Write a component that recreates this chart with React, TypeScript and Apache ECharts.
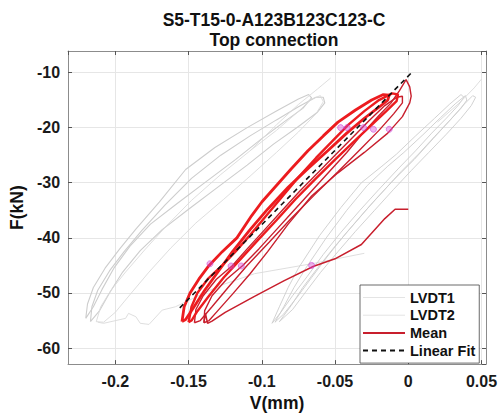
import React, { useEffect, useRef } from "react";
import * as echarts from "echarts";

type P = [number, number];

// Axis ranges and labels
const X_MIN = -0.2323;
const X_MAX = 0.0531;
const Y_MIN = -62.9;
const Y_MAX = -6.1;
const TITLE_LINES = ["S5-T15-0-A123B123C123-C", "Top connection"];
const X_NAME = "V(mm)";
const Y_NAME = "F(kN)";
const LEGEND_NAMES = ["LVDT1", "LVDT2", "Mean", "Linear Fit"];

// LVDT1 (left grey group)
const lvdt1Tail: P[] = [[-0.03, -42.8], [-0.066, -44.7], [-0.105, -46.5], [-0.128, -48.6], [-0.159, -52.5], [-0.168, -53.1], [-0.177, -55.7], [-0.183, -55.5], [-0.186, -54.3], [-0.191, -53.7], [-0.193, -54.6], [-0.208, -55.5], [-0.212, -55.3]];
const lvdt1Loop1: P[] = [[-0.2202, -54.6], [-0.219, -52], [-0.215, -49], [-0.207, -45.5], [-0.197, -42], [-0.186, -38.4], [-0.17, -33.5], [-0.152, -27.6], [-0.132, -23.6], [-0.11, -20], [-0.09, -17], [-0.075, -14.8], [-0.068, -14], [-0.066, -14.6], [-0.072, -16.5], [-0.085, -19], [-0.1, -22], [-0.118, -25.8], [-0.138, -29.8], [-0.158, -33.8], [-0.176, -37.5], [-0.19, -41.5], [-0.201, -45.5], [-0.209, -49.3], [-0.215, -52.5], [-0.2202, -54.6]];
const lvdt1Loop2: P[] = [[-0.217, -55.2], [-0.216, -52.5], [-0.212, -49.5], [-0.204, -46], [-0.194, -42.5], [-0.182, -38.7], [-0.166, -34], [-0.148, -29.2], [-0.128, -25], [-0.108, -21.5], [-0.09, -18.6], [-0.075, -16.2], [-0.063, -14.5], [-0.058, -14.5], [-0.057, -15.5], [-0.062, -17.2], [-0.075, -19.8], [-0.092, -23], [-0.11, -26.8], [-0.13, -30.8], [-0.15, -34.8], [-0.168, -38.5], [-0.183, -42.3], [-0.195, -46.2], [-0.204, -50], [-0.211, -53.3], [-0.217, -55.2]];
const lvdt1Loop3: P[] = [[-0.213, -55.2], [-0.21, -52.5], [-0.203, -49.5], [-0.193, -46.2], [-0.18, -42.2], [-0.165, -37.8], [-0.148, -33.2], [-0.128, -28.5], [-0.108, -24.2], [-0.09, -20.5], [-0.076, -17.3], [-0.066, -14.8], [-0.06, -14.2], [-0.058, -15.3], [-0.063, -17.5], [-0.075, -20.8], [-0.09, -24.5], [-0.108, -28.8], [-0.126, -33], [-0.145, -37.3], [-0.162, -41.8], [-0.177, -46.2], [-0.19, -50.3], [-0.2, -53.5], [-0.208, -55.3], [-0.213, -55.2]];
const lvdt1Peak: P[] = [[-0.108, -24.2], [-0.09, -19.5], [-0.075, -15.8], [-0.062, -13], [-0.053, -11]];

// LVDT2 (right grey group)
const lvdt2Loop1: P[] = [[-0.093, -55.5], [-0.088, -52.5], [-0.082, -49], [-0.075, -45.5], [-0.0606, -39.6], [-0.046, -34.5], [-0.032, -30], [-0.018, -27], [-0.008, -24.8], [0.005, -21.5], [0.018, -18.3], [0.028, -15.8], [0.036, -14], [0.038, -14.5], [0.034, -16], [0.026, -18.3], [0.016, -21], [0.005, -24.2], [-0.007, -27.5], [-0.02, -31.2], [-0.033, -35], [-0.046, -39], [-0.058, -43], [-0.069, -47], [-0.079, -50.5], [-0.087, -53.5], [-0.093, -55.5]];
const lvdt2Loop2: P[] = [[-0.091, -55.3], [-0.085, -52.5], [-0.078, -49], [-0.07, -45.5], [-0.056, -40], [-0.042, -35], [-0.028, -30.5], [-0.014, -27], [-0.003, -24.5], [0.01, -21.3], [0.022, -18.2], [0.032, -15.7], [0.039, -14.2], [0.04, -15], [0.036, -16.5], [0.028, -18.8], [0.018, -21.6], [0.007, -24.8], [-0.005, -28], [-0.017, -31.5], [-0.03, -35.3], [-0.043, -39.3], [-0.055, -43.3], [-0.066, -47.2], [-0.076, -50.8], [-0.085, -53.8], [-0.091, -55.3]];
const lvdt2Loop3: P[] = [[-0.088, -55.2], [-0.08, -52.3], [-0.072, -49], [-0.062, -45.5], [-0.05, -41.5], [-0.037, -37.5], [-0.024, -33.5], [-0.01, -29.5], [0.004, -25.8], [0.017, -22], [0.029, -18.5], [0.038, -15.8], [0.044, -14.2], [0.046, -14.5], [0.043, -16], [0.036, -18.3], [0.026, -21.2], [0.014, -24.5], [0.002, -27.8], [-0.01, -31.2], [-0.023, -35], [-0.036, -38.8], [-0.048, -42.5], [-0.06, -46.3], [-0.07, -49.8], [-0.079, -53], [-0.088, -55.2]];
const lvdt2Peak: P[] = [[0.02, -19], [0.035, -15.5], [0.045, -12.8], [0.05, -11.2]];

// Mean (red)
const meanTail: P[] = [[0, -34.8], [-0.009, -34.8], [-0.016, -36.5], [-0.032, -41.2], [-0.05, -43.8], [-0.065, -45.2], [-0.085, -47.8], [-0.105, -50.6], [-0.125, -53.5], [-0.134, -55.1], [-0.137, -55.5], [-0.1385, -53.7], [-0.1395, -55.4]];
const meanLoopC: P[] = [[-0.1395, -55.4], [-0.139, -53.2], [-0.134, -50.5], [-0.124, -47.5], [-0.113, -45], [-0.102, -42], [-0.09, -38.5], [-0.078, -35], [-0.066, -31.5], [-0.054, -28], [-0.042, -24.5], [-0.031, -21], [-0.02, -17.8], [-0.012, -15.6], [-0.006, -13.3], [-0.0015, -11.3], [0.001, -12.6], [0.002, -14.3], [0.001, -15.5], [-0.004, -18], [-0.014, -21], [-0.03, -24.5], [-0.048, -28.2], [-0.066, -32.4], [-0.082, -37.5], [-0.096, -42.5], [-0.108, -46.5], [-0.12, -50.2], [-0.13, -53.2], [-0.136, -55], [-0.1395, -55.4]];
const meanLoopD: P[] = [[-0.146, -55.4], [-0.145, -53], [-0.14, -50.5], [-0.131, -47.5], [-0.12, -45], [-0.11, -42], [-0.098, -38.5], [-0.086, -35], [-0.074, -31.5], [-0.061, -28], [-0.05, -25], [-0.038, -21.8], [-0.027, -18.8], [-0.016, -16], [-0.008, -14.5], [-0.004, -14.3], [-0.004, -15.5], [-0.01, -17.5], [-0.02, -20.5], [-0.033, -24], [-0.048, -28], [-0.064, -32.2], [-0.08, -36.5], [-0.095, -40.8], [-0.11, -45], [-0.123, -49], [-0.134, -52.5], [-0.142, -55], [-0.146, -55.4]];
const meanLoopA: P[] = [[-0.1545, -55.2], [-0.153, -52.5], [-0.149, -50], [-0.143, -47.5], [-0.136, -45], [-0.127, -42.5], [-0.117, -40], [-0.107, -36], [-0.1, -33.5], [-0.09, -30.5], [-0.08, -27.5], [-0.0685, -24.2], [-0.058, -21.5], [-0.048, -19], [-0.036, -16.8], [-0.025, -15], [-0.017, -14], [-0.013, -14.1], [-0.014, -15], [-0.02, -16.3], [-0.03, -18.3], [-0.042, -21], [-0.055, -24.2], [-0.068, -27.3], [-0.082, -30.8], [-0.096, -34.8], [-0.108, -38.5], [-0.12, -42.5], [-0.13, -46.2], [-0.139, -49.5], [-0.147, -52.8], [-0.152, -54.8], [-0.1545, -55.2]];
const meanLoopB: P[] = [[-0.15, -55.3], [-0.148, -52.5], [-0.144, -50], [-0.137, -47.5], [-0.127, -45], [-0.118, -42.5], [-0.108, -39.5], [-0.097, -36], [-0.086, -32.5], [-0.075, -29], [-0.063, -25.5], [-0.052, -22.5], [-0.041, -19.5], [-0.03, -17], [-0.02, -15], [-0.011, -13.8], [-0.007, -14], [-0.008, -15.2], [-0.015, -17], [-0.025, -19.5], [-0.037, -22.5], [-0.05, -25.8], [-0.063, -29.2], [-0.077, -33], [-0.09, -36.8], [-0.103, -40.5], [-0.115, -44], [-0.126, -47.2], [-0.136, -50.5], [-0.144, -53.3], [-0.148, -55], [-0.15, -55.3]];

// Linear fit end points
const fitLine: P[] = [[-0.156, -52.7], [0.002, -10.1]];

// Magenta data-tip markers
const tipMarks: P[] = [[-0.0462, -20], [-0.0417, -20], [-0.0305, -20], [-0.0238, -20.3], [-0.013, -20.3], [-0.1354, -44.7], [-0.121, -45.1], [-0.114, -45.1], [-0.066, -45]];

const FONT = "'Liberation Sans', Arial, Helvetica, sans-serif";
const GREY = "#cdcdcd";
const RED_THIN = "#c81f2d";
const RED_THICK = "#ec1c1f";

function lineSeries(name: string, data: P[], color: string, width: number, extra: any = {}) {
  return {
    type: "line",
    name,
    data,
    xAxisIndex: 0,
    yAxisIndex: 0,
    symbol: "none",
    showSymbol: false,
    smooth: false,
    lineStyle: { color, width, ...extra },
    itemStyle: { color },
    emphasis: { disabled: true },
    silent: true,
  };
}

export default function App() {
  const ref = useRef<HTMLDivElement>(null);
  useEffect(() => {
    const chart = echarts.init(ref.current!, null, { renderer: "svg" });
    const baseX = {
      type: "value",
      min: X_MIN,
      max: X_MAX,
      splitNumber: 5,
    };
    const baseY = {
      type: "value",
      min: Y_MIN,
      max: Y_MAX,
      splitNumber: 5,
    };
    const legendData = LEGEND_NAMES.map((n) =>
      n.startsWith("LVDT") ? { name: n, lineStyle: { color: "#e4e4e4", width: 1 } } : { name: n }
    );
    chart.setOption({
      animation: false,
      backgroundColor: "#ffffff",
      title: {
        text: TITLE_LINES.join("\n"),
        left: 274,
        top: 10,
        padding: 0,
        textAlign: "center",
        textStyle: { fontFamily: FONT, fontSize: 17.5, fontWeight: "bold", color: "#111", lineHeight: 20 },
      },
      legend: {
        data: legendData,
        orient: "vertical",
        left: 360,
        top: 285,
        padding: [5, 4, 5, 2],
        itemGap: 2.7,
        itemWidth: 42,
        itemHeight: 14,
        backgroundColor: "#ffffff",
        borderColor: "#444",
        borderWidth: 0.8,
        selectedMode: false,
        itemStyle: { opacity: 0 },
        textStyle: { fontFamily: FONT, fontSize: 14.5, fontWeight: "bold", color: "#111" },
      },
      grid: { left: 61, top: 51, width: 426, height: 315, containLabel: false },
      xAxis: [
        {
          ...baseX,
          position: "bottom",
          name: X_NAME,
          nameLocation: "middle",
          nameGap: 27,
          nameTextStyle: { fontFamily: FONT, fontSize: 17.5, fontWeight: "bold", color: "#111" },
          axisLine: { show: true, onZero: false, lineStyle: { color: "#8c8c8c", width: 1 } },
          axisTick: { show: true, inside: true, length: 4, lineStyle: { color: "#555" } },
          axisLabel: { show: true, margin: 9, showMinLabel: false, showMaxLabel: false, fontFamily: FONT, fontSize: 16, fontWeight: "bold", color: "#1a1a1a" },
          splitLine: { show: true, lineStyle: { color: "#e6e6e6", width: 1 } },
        },
        {
          ...baseX,
          position: "top",
          axisLine: { show: true, onZero: false, lineStyle: { color: "#8c8c8c", width: 1 } },
          axisTick: { show: true, inside: true, length: 4, lineStyle: { color: "#555" } },
          axisLabel: { show: false },
          splitLine: { show: false },
        },
      ],
      yAxis: [
        {
          ...baseY,
          position: "left",
          name: Y_NAME,
          nameLocation: "middle",
          nameGap: 33,
          nameTextStyle: { fontFamily: FONT, fontSize: 17.5, fontWeight: "bold", color: "#111" },
          axisLine: { show: true, onZero: false, lineStyle: { color: "#8c8c8c", width: 1 } },
          axisTick: { show: true, inside: true, length: 4, lineStyle: { color: "#555" } },
          axisLabel: { show: true, margin: 8, showMinLabel: false, showMaxLabel: false, fontFamily: FONT, fontSize: 16, fontWeight: "bold", color: "#1a1a1a" },
          splitLine: { show: true, lineStyle: { color: "#e6e6e6", width: 1 } },
        },
        {
          ...baseY,
          position: "right",
          axisLine: { show: true, onZero: false, lineStyle: { color: "#8c8c8c", width: 1 } },
          axisTick: { show: true, inside: true, length: 4, lineStyle: { color: "#555" } },
          axisLabel: { show: false },
          splitLine: { show: false },
        },
      ],
      series: [
        lineSeries("LVDT1", lvdt1Loop1, GREY, 1.1),
        lineSeries("LVDT1", lvdt1Loop2, GREY, 1.1),
        lineSeries("LVDT1", lvdt1Loop3, "#dadada", 0.9),
        lineSeries("LVDT1", lvdt1Tail, "#dadada", 0.9),
        lineSeries("LVDT1", lvdt1Peak, "#dadada", 0.9),
        lineSeries("LVDT2", lvdt2Loop1, GREY, 0.9),
        lineSeries("LVDT2", lvdt2Loop2, GREY, 0.9),
        lineSeries("LVDT2", lvdt2Loop3, GREY, 0.9),
        lineSeries("LVDT2", lvdt2Peak, "#dadada", 0.9),
        lineSeries("Mean", meanTail, RED_THIN, 1.5),
        lineSeries("Mean", meanLoopC, RED_THIN, 1.4),
        lineSeries("Mean", meanLoopD, RED_THIN, 1.4),
        lineSeries("Mean", meanLoopA, RED_THICK, 2.8),
        lineSeries("Mean", meanLoopB, RED_THICK, 2.4),
        lineSeries("Linear Fit", fitLine, "#111111", 1.6, { type: [5, 4] }),
        {
          type: "scatter",
          name: "tips",
          data: tipMarks,
          symbol: "circle",
          symbolSize: 6,
          itemStyle: { color: "rgba(215,70,215,0.5)", borderColor: "rgba(200,60,210,0.7)", borderWidth: 1 },
          silent: true,
          z: 5,
        },
      ],
    });
    return () => chart.dispose();
  }, []);
  return <div ref={ref} style={{ position: "absolute", left: 0, top: 0, width: 500, height: 417 }} />;
}
